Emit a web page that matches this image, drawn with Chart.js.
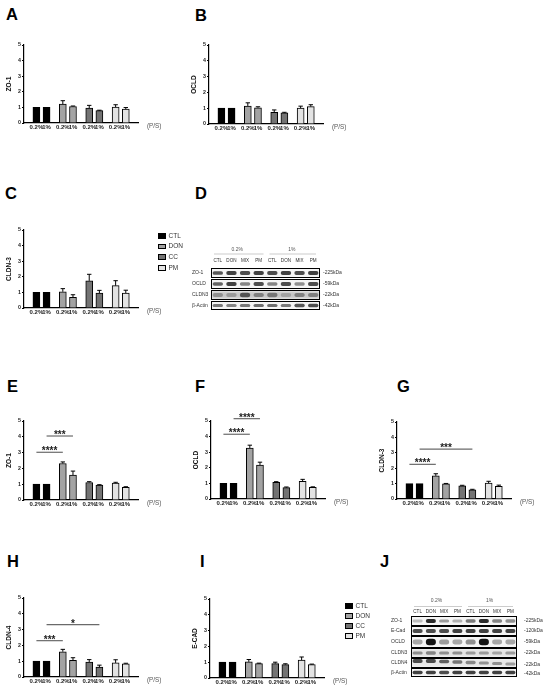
<!DOCTYPE html>
<html>
<head>
<meta charset="utf-8">
<script src="https://cdn.jsdelivr.net/npm/chart.js@4.4.1/dist/chart.umd.min.js"></script>
<style>
  body { margin: 0; background: #fff; width: 550px; height: 692px; position: relative; overflow: hidden;
         font-family: Arial, "Liberation Sans", sans-serif; }
  .panel { position: absolute; }
  .letter { position: absolute; font-weight: bold; font-size: 16.5px; line-height: 16px; color: #000; }
  .legend { position: absolute; font-size: 6.5px; color: #333; }
  .legend div { position: absolute; white-space: nowrap; line-height: 7px; }
  .legend span { display: inline-block; width: 6px; height: 3.5px; border: 0.8px solid #000; vertical-align: middle; margin-right: 2.5px; }
  canvas { display: block; }
</style>
</head>
<body>
<script>
// ---- data ----
const groups = ['CTL', 'DON', 'CC', 'PM'];
const doses = ['0.2%', '1%'];
const yTicks = [0, 1, 2, 3, 4, 5];

// bar order: CTL 0.2%, CTL 1%, DON 0.2%, DON 1%, CC 0.2%, CC 1%, PM 0.2%, PM 1%
const zo1A = [1, 1, 1.21, 1.06, 0.96, 0.79, 1.02, 0.89];
const zo1AErr = [0, 0, 0.22, 0.03, 0.17, 0.03, 0.15, 0.10];
const ocldB = [1, 1, 1.14, 1.03, 0.74, 0.70, 1.01, 1.10];
const ocldBErr = [0, 0, 0.20, 0.06, 0.15, 0.04, 0.12, 0.12];
const cldn3C = [1, 1, 1.04, 0.68, 1.74, 0.96, 1.43, 0.96];
const cldn3CErr = [0, 0, 0.20, 0.17, 0.42, 0.17, 0.32, 0.18];
const zo1E = [1, 1, 2.31, 1.58, 1.11, 0.94, 1.07, 0.80];
const zo1EErr = [0, 0, 0.10, 0.25, 0.05, 0.03, 0.05, 0.04];
const ocldF = [1, 1, 3.27, 2.18, 1.07, 0.73, 1.13, 0.75];
const ocldFErr = [0, 0, 0.18, 0.18, 0.04, 0.04, 0.13, 0.03];
const cldn3G = [1, 1, 1.50, 0.99, 0.86, 0.60, 1.03, 0.82];
const cldn3GErr = [0, 0, 0.14, 0.02, 0.03, 0.03, 0.12, 0.08];
const cldn4H = [1, 1, 1.60, 1.05, 0.95, 0.63, 0.89, 0.84];
const cldn4HErr = [0, 0, 0.15, 0.17, 0.15, 0.12, 0.20, 0.03];
const ecadI = [1, 1, 1.02, 0.91, 0.91, 0.85, 1.13, 0.85];
const ecadIErr = [0, 0, 0.15, 0.03, 0.09, 0.05, 0.20, 0.03];

// significance brackets: [from bar, to bar, height, stars]
const sigE = [[0, 2, 3.02, '****'], [1, 3, 4.05, '***']];
const sigF = [[0, 2, 4.15, '****'], [1, 3, 5.15, '****']];
const sigG = [[0, 2, 2.25, '****'], [1, 5, 3.24, '***']];
const sigH = [[0, 2, 2.30, '***'], [1, 5, 3.31, '*']];

// western blots: band darkness per lane (CTL DON MIX PM | CTL DON MIX PM)
const blotLanes = ['CTL', 'DON', 'MIX', 'PM'];
const blotDoses = ['0.2%', '1%'];
const dNames = ['ZO-1', 'OCLD', 'CLDN3', 'β-Actin'];
const dKda = ['-225kDa', '-59kDa', '-22kDa', '-42kDa'];
const dZO1 = [0.7, 0.8, 0.75, 0.8, 0.75, 0.8, 0.75, 0.8];
const dOCLD = [0.65, 0.8, 0.5, 0.75, 0.5, 0.75, 0.45, 0.75];
const dCLDN3 = [0.3, 0.25, 0.65, 0.4, 0.45, 0.2, 0.4, 0.4];
const dActin = [0.55, 0.5, 0.55, 0.6, 0.6, 0.55, 0.7, 0.75];
const jNames = ['ZO-1', 'E-Cad', 'OCLD', 'CLDN3', 'CLDN4', 'β-Actin'];
const jKda = ['-225kDa', '-120kDa', '-59kDa', '-22kDa', '-22kDa', '-42kDa'];
const jZO1 = [0.25, 0.9, 0.4, 0.3, 0.55, 0.9, 0.5, 0.45];
const jECad = [0.75, 0.75, 0.75, 0.8, 0.8, 0.8, 0.8, 0.8];
const jOCLD = [0.35, 1.0, 0.4, 0.35, 0.45, 1.0, 0.35, 0.35];
const jCLDN3 = [0.4, 0.45, 0.4, 0.4, 0.35, 0.35, 0.3, 0.35];
const jCLDN4 = [0.75, 0.75, 0.65, 0.55, 0.45, 0.4, 0.4, 0.35];
const jActin = [0.8, 0.8, 0.75, 0.8, 0.8, 0.8, 0.8, 0.8];

// ---- styles / layout ----
const FONT = 'Arial, "Liberation Sans", sans-serif';
Chart.defaults.font.family = FONT;
const fills = ['#000000', '#a3a3a3', '#737373', '#e3e3e3'];
const Y_W = 24, PAD_T = 14, PAD_R = 32, X_H = 11, AREA_W = 114;
const GROUP_STEP = 2.6;
const xPos = [];
groups.forEach((g, gi) => doses.forEach((d, di) => xPos.push(gi * GROUP_STEP + di)));

const errBars = {
  id: 'errbars',
  afterDatasetsDraw(chart, args, opts) {
    const ctx = chart.ctx, ys = chart.scales.y;
    ctx.save();
    ctx.strokeStyle = '#000';
    ctx.lineWidth = 1;
    chart.data.datasets.forEach((ds, i) => {
      chart.getDatasetMeta(i).data.forEach((bar, j) => {
        const k = i * 2 + j, e = opts.err[k];
        if (!e) return;
        const y0 = ys.getPixelForValue(opts.mean[k]);
        const y1 = ys.getPixelForValue(opts.mean[k] + e);
        ctx.beginPath();
        ctx.moveTo(bar.x, y0); ctx.lineTo(bar.x, y1);
        ctx.moveTo(bar.x - 2.2, y1); ctx.lineTo(bar.x + 2.2, y1);
        ctx.stroke();
      });
    });
    ctx.restore();
  }
};

const sigBars = {
  id: 'sig',
  afterDraw(chart, args, opts) {
    const ctx = chart.ctx, xs = chart.scales.x, ys = chart.scales.y;
    ctx.save();
    (opts.items || []).forEach(([a, b, h, txt]) => {
      const x0 = xs.getPixelForValue(xPos[a]), x1 = xs.getPixelForValue(xPos[b]);
      const y = ys.getPixelForValue(h);
      ctx.strokeStyle = '#6a6a6a';
      ctx.lineWidth = 1.2;
      ctx.beginPath(); ctx.moveTo(x0, y); ctx.lineTo(x1, y); ctx.stroke();
      ctx.fillStyle = '#222';
      ctx.font = 'bold 10px ' + FONT;
      ctx.textAlign = 'center';
      ctx.textBaseline = 'alphabetic';
      ctx.fillText(txt, (x0 + x1) / 2, y + 2);
    });
    // axis unit label
    ctx.fillStyle = '#555';
    ctx.font = '6.3px ' + FONT;
    ctx.textAlign = 'left';
    ctx.textBaseline = 'middle';
    ctx.fillText('(P/S)', chart.chartArea.right + 9, chart.chartArea.bottom + 3.6);
    ctx.restore();
  }
};

function barChart(L, T, B, title, mean, err, sig) {
  const box = document.createElement('div');
  box.className = 'panel';
  box.style.left = (L - Y_W) + 'px';
  box.style.top = (T - PAD_T) + 'px';
  box.style.width = (Y_W + AREA_W + PAD_R) + 'px';
  box.style.height = (PAD_T + (B - T) + X_H) + 'px';
  const cv = document.createElement('canvas');
  box.appendChild(cv);
  document.body.appendChild(box);

  new Chart(cv, {
    type: 'bar',
    data: {
      datasets: groups.map((g, gi) => ({
        label: g,
        data: doses.map((d, di) => ({ x: xPos[gi * 2 + di], y: mean[gi * 2 + di] })),
        backgroundColor: fills[gi],
        borderColor: '#000',
        borderWidth: 1,
        barThickness: 7,
        grouped: false
      }))
    },
    options: {
      responsive: true,
      maintainAspectRatio: false,
      animation: false,
      layout: { padding: { top: PAD_T, right: PAD_R, left: 0, bottom: 0 } },
      plugins: {
        legend: { display: false },
        tooltip: { enabled: false },
        errbars: { mean: mean, err: err },
        sig: { items: sig || [] }
      },
      scales: {
        x: {
          type: 'linear',
          min: -0.52, max: 9.3,
          afterBuildTicks: s => { s.ticks = xPos.map(v => ({ value: v })); },
          afterFit: s => { s.height = X_H; s.paddingLeft = 0; s.paddingRight = 0; },
          ticks: {
            autoSkip: false, maxRotation: 0, padding: 1,
            color: '#222', font: { size: 6, weight: 'bold' },
            callback: (v, i) => doses[i % 2]
          },
          grid: { display: false, drawTicks: false },
          border: { color: '#000', width: 1.2 }
        },
        y: {
          min: 0, max: 5,
          afterBuildTicks: s => { s.ticks = yTicks.map(v => ({ value: v })); },
          afterFit: s => { s.width = Y_W; s.paddingTop = 0; s.paddingBottom = 0; },
          ticks: { padding: 1, color: '#222', font: { size: 5.3, weight: 'bold' } },
          grid: { display: true, drawOnChartArea: false, drawTicks: true, tickLength: 2, color: '#000', lineWidth: 1 },
          border: { color: '#000', width: 1.2 },
          title: { display: true, text: title, color: '#111', font: { size: 6.5, weight: 'bold' }, padding: { top: 5, bottom: 0 } }
        }
      }
    },
    plugins: [errBars, sigBars]
  });
}

function legend(x, y0, step) {
  const lg = document.createElement('div');
  lg.className = 'legend';
  lg.style.left = x + 'px';
  lg.style.top = y0 + 'px';
  groups.forEach((g, i) => {
    const it = document.createElement('div');
    it.style.top = (i * step - 3.5) + 'px';
    it.innerHTML = '<span style="background:' + fills[i] + '"></span>' + g;
    lg.appendChild(it);
  });
  document.body.appendChild(lg);
}

function blot(spec) {
  const cv = document.createElement('canvas');
  const dpr = window.devicePixelRatio || 1;
  cv.width = spec.w * dpr; cv.height = spec.h * dpr;
  cv.style.cssText = 'position:absolute;left:' + spec.x + 'px;top:' + spec.y + 'px;width:' + spec.w + 'px;height:' + spec.h + 'px';
  document.body.appendChild(cv);
  const ctx = cv.getContext('2d');
  ctx.scale(dpr, dpr);
  ctx.translate(-spec.x, -spec.y);
  const laneW = (spec.boxR - spec.boxL) / 8;

  ctx.font = '5px ' + FONT;
  ctx.fillStyle = '#555';
  ctx.textAlign = 'center';
  ctx.textBaseline = 'middle';
  blotDoses.forEach((d, gi) => {
    const cx = spec.boxL + laneW * (gi * 4 + 2);
    ctx.fillText(d, cx - 1, spec.doseY);
    ctx.strokeStyle = '#aaa';
    ctx.lineWidth = 0.6;
    ctx.beginPath();
    ctx.moveTo(spec.boxL + laneW * gi * 4 + (gi ? 4 : 3), spec.lineY);
    ctx.lineTo(spec.boxL + laneW * (gi * 4 + 4) - (gi ? 4 : 2), spec.lineY);
    ctx.stroke();
  });
  ctx.font = '4.6px ' + FONT;
  ctx.fillStyle = '#333';
  for (let k = 0; k < 8; k++) {
    ctx.fillText(blotLanes[k % 4], spec.boxL + laneW * (k + 0.5), spec.laneY);
  }

  spec.rows.forEach((r, ri) => {
    const h = r.bot - r.top;
    ctx.fillStyle = '#f5f5f5';
    ctx.fillRect(spec.boxL, r.top, spec.boxR - spec.boxL, h);
    if (r.bg) {
      ctx.save();
      ctx.filter = 'blur(1px)';
      ctx.fillStyle = 'rgba(60,60,60,' + r.bg + ')';
      ctx.fillRect(spec.boxL + 1, r.top + 1.5, spec.boxR - spec.boxL - 2, h - 3);
      ctx.restore();
    }
    ctx.save();
    ctx.filter = 'blur(0.55px)';
    r.ints.forEach((a, k) => {
      const cx = spec.boxL + laneW * (k + 0.5);
      const bh = h * (r.bandH || 0.32) * (0.8 + a * 0.5);
      const cy = r.top + h / 2 + (r.shift ? r.shift[k] : 0);
      ctx.fillStyle = 'rgba(20,20,20,' + a + ')';
      ctx.beginPath();
      ctx.roundRect(cx - laneW * 0.38, cy - bh / 2, laneW * 0.76, bh, bh / 2);
      ctx.fill();
    });
    ctx.restore();
    ctx.strokeStyle = '#000';
    ctx.lineWidth = 1;
    ctx.strokeRect(spec.boxL + 0.5, r.top + 0.5, spec.boxR - spec.boxL - 1, h - 1);

    ctx.fillStyle = '#333';
    ctx.font = '5px ' + FONT;
    ctx.textAlign = 'left';
    ctx.fillText(spec.names[ri], spec.nameX, (r.top + r.bot) / 2 + (r.nameDy || 0));
    ctx.fillText(spec.kda[ri], spec.kdaX, (r.top + r.bot) / 2 + (r.kdaDy || 0));
    ctx.textAlign = 'center';
  });
}

function letter(t, x, y) {
  const d = document.createElement('div');
  d.className = 'letter';
  d.style.left = x + 'px';
  d.style.top = (y - 2) + 'px';
  d.textContent = t;
  document.body.appendChild(d);
}

// ---- panels ----
letter('A', 6, 8);   letter('B', 195, 9);
letter('C', 5, 187); letter('D', 195, 187);
letter('E', 7, 380); letter('F', 195, 380); letter('G', 397, 380);
letter('H', 7, 555); letter('I', 200, 555); letter('J', 380, 555);

barChart(24, 45, 123, 'ZO-1', zo1A, zo1AErr);
barChart(209, 45, 124, 'OCLD', ocldB, ocldBErr);
barChart(24, 230, 308, 'CLDN-3', cldn3C, cldn3CErr);
barChart(24, 421, 500, 'ZO-1', zo1E, zo1EErr, sigE);
barChart(211, 421, 499, 'OCLD', ocldF, ocldFErr, sigF);
barChart(397, 422, 499, 'CLDN-3', cldn3G, cldn3GErr, sigG);
barChart(24, 598, 677, 'CLDN-4', cldn4H, cldn4HErr, sigH);
barChart(210, 599, 678, 'E-CAD', ecadI, ecadIErr);

legend(158, 235, 10.7);
legend(345, 605, 10);

blot({
  x: 185, y: 240, w: 165, h: 76,
  boxL: 211, boxR: 320, doseY: 250, lineY: 254, laneY: 261,
  nameX: 192, kdaX: 323, names: dNames, kda: dKda,
  rows: [
    { top: 268, bot: 278, ints: dZO1 },
    { top: 279, bot: 289, ints: dOCLD },
    { top: 290, bot: 300, ints: dCLDN3, bg: 0.25, bandH: 0.42 },
    { top: 301, bot: 310, ints: dActin }
  ]
});

blot({
  x: 385, y: 592, w: 165, h: 92,
  boxL: 411, boxR: 517, doseY: 601, lineY: 606.5, laneY: 611.5,
  nameX: 391, kdaX: 524, names: jNames, kda: jKda,
  rows: [
    { top: 616, bot: 626, ints: jZO1 },
    { top: 626, bot: 636, ints: jECad },
    { top: 636, bot: 648, ints: jOCLD, bandH: 0.42 },
    { top: 648, bot: 658, ints: jCLDN3, bg: 0.1 },
    { top: 658, bot: 668, ints: jCLDN4, bg: 0.08, shift: [-2, -2, -1.5, -1, -0.5, 0, 0.5, 1], kdaDy: 2 },
    { top: 668, bot: 677, ints: jActin, kdaDy: 1 }
  ]
});
</script>
</body>
</html>
